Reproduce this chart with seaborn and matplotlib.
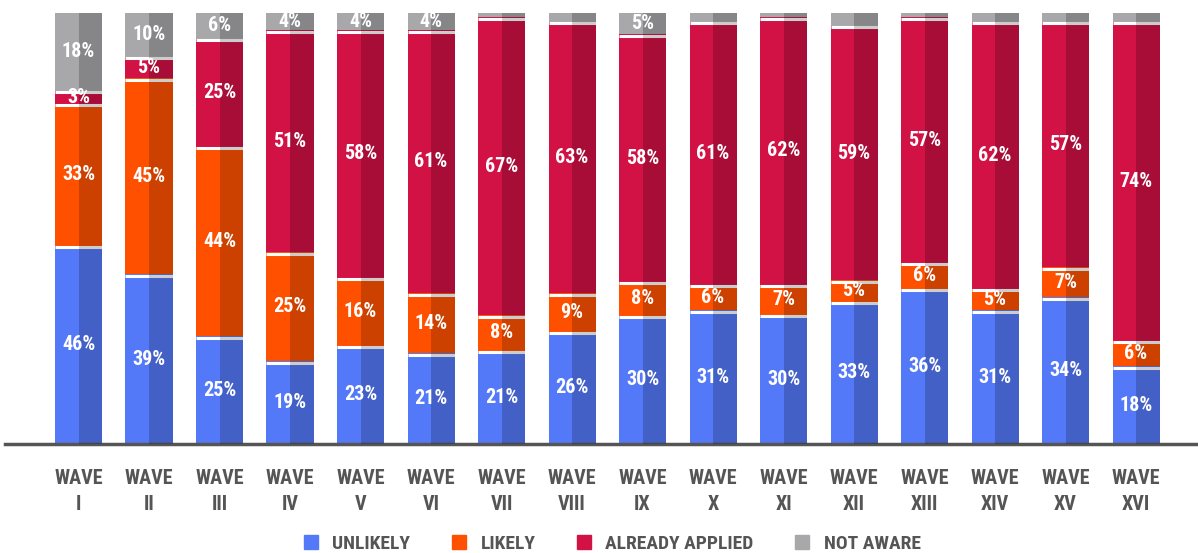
import numpy as np
import pandas as pd
import matplotlib
matplotlib.use("Agg")
import matplotlib.pyplot as plt
from matplotlib import font_manager
from matplotlib.lines import Line2D
import seaborn as sns

# values (percent per wave)
waves = ["I", "II", "III", "IV", "V", "VI", "VII", "VIII",
         "IX", "X", "XI", "XII", "XIII", "XIV", "XV", "XVI"]
unlikely = [46, 39, 25, 19, 23, 21, 21, 26, 30, 31, 30, 33, 36, 31, 34, 18]
likely = [33, 45, 44, 25, 16, 14, 8, 9, 8, 6, 7, 5, 6, 5, 7, 6]
applied = [3, 5, 25, 51, 58, 61, 67, 63, 58, 61, 62, 59, 57, 62, 57, 74]
not_aware = [18, 10, 6, 4, 4, 4, 1, 2, 5, 2, 1, 3, 1, 2, 2, 2]

series = ["UNLIKELY", "LIKELY", "ALREADY APPLIED", "NOT AWARE"]
colors = ["#5479F8", "#FF5000", "#D21145", "#A8A8AB"]
min_label = [0, 0, 0, 4]   # small grey slices carry no label

sns.set_style("white")

# pick a narrow face if one is around
have = {f.name for f in font_manager.fontManager.ttflist}
narrow = [f.name for f in font_manager.fontManager.ttflist
          if f.stretch in ("condensed", "semi-condensed", "extra-condensed")]
cands = ["Liberation Sans Narrow", "Roboto Condensed", "Open Sans Condensed",
         "DejaVu Sans Condensed", "Noto Sans Condensed"]
pick = [c for c in cands if c in have]
stretch = "normal"
if pick:
    font = [pick[0], "DejaVu Sans"]
elif "DejaVu Sans" in narrow:
    font = ["DejaVu Sans"]
    stretch = "condensed"
else:
    font = ["Roboto", "DejaVu Sans"]
plt.rcParams["font.family"] = font
plt.rcParams["font.stretch"] = stretch
plt.rcParams["font.weight"] = "bold"

df = pd.DataFrame({"wave": [f"WAVE\n{w}" for w in waves],
                   "UNLIKELY": unlikely, "LIKELY": likely,
                   "ALREADY APPLIED": applied, "NOT AWARE": not_aware})
raw = df[series]
# stacked to 100%
share = raw.div(raw.sum(axis=1), axis=0) * 100
tops = share.cumsum(axis=1)
bottoms = tops - share

fig = plt.figure(figsize=(11.98, 5.53), dpi=100)
ax = fig.add_axes([5 / 1198, 109 / 553, 1193 / 1198, 431 / 553])

bw = 0.667
order = list(df["wave"])
# draw cumulative heights from the top layer down
for i in range(len(series) - 1, -1, -1):
    sns.barplot(x=df["wave"], y=tops[series[i]], order=order, color=colors[i],
                width=bw, saturation=1, errorbar=None, linewidth=0, ax=ax)

xs = np.arange(len(waves))
# white separators on top of each lower segment
for i in range(len(series) - 1):
    ax.hlines(tops[series[i]] - 0.35, xs - bw / 2, xs + bw / 2,
              color="white", lw=2.2, zorder=3)

# darker right half of every bar
ax.bar(xs + bw / 4, 100, width=bw / 2, color="black", alpha=0.2,
       linewidth=0, zorder=4)

for i, s in enumerate(series):
    for j in range(len(waves)):
        v = raw[s].iloc[j]
        if v < min_label[i]:
            continue
        ax.text(xs[j], bottoms[s].iloc[j] + share[s].iloc[j] / 2, f"{v}%",
                ha="center", va="center", color="white", fontsize=14.5,
                fontweight="bold", zorder=5)

ax.set_xlim(-1.0426, 15.879)
ax.set_ylim(0, 100)
ax.set_xlabel("")
ax.set_ylabel("")
ax.set_yticks([])
ax.set_xticks(xs, order)
ax.tick_params(axis="x", length=0, pad=18, labelsize=14.5, labelcolor="#555555")
for t in ax.get_xticklabels():
    t.set_fontweight("bold")
    t.set_linespacing(1.5)
for side in ["top", "left", "right"]:
    ax.spines[side].set_visible(False)
ax.spines["bottom"].set_color("#555555")
ax.spines["bottom"].set_linewidth(2.5)

handles = [Line2D([], [], marker="s", ls="", color=c, markersize=9.4) for c in colors]
leg = fig.legend(handles, series, loc="center", bbox_to_anchor=(0.51, 0.016), ncol=4,
                 frameon=False, handlelength=1, handletextpad=0.6, columnspacing=2.0,
                 fontsize=14, labelcolor="#555555")
for t in leg.get_texts():
    t.set_fontweight("bold")

fig.savefig("out.png", dpi=100)
